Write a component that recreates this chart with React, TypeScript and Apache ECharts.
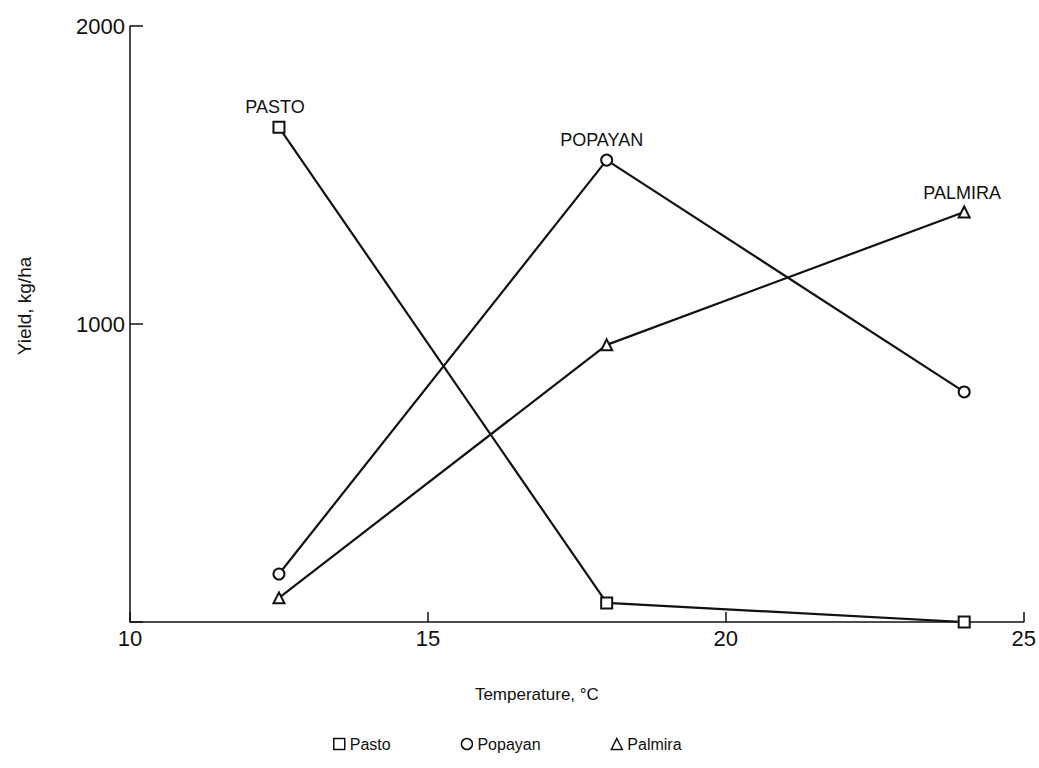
import React, { useEffect, useRef } from "react";
import * as echarts from "echarts";

const temperatures = [12.5, 18, 24];
const pastoYield = [1660, 64, 0];
const popayanYield = [161, 1550, 772];
const palmiraYield = [81, 930, 1376];
const seriesNames = ["Pasto", "Popayan", "Palmira"];
const siteLabels = ["PASTO", "POPAYAN", "PALMIRA"];
const xTicks = [10, 15, 20, 25];
const yTicks = [0, 1000, 2000];

const FONT = "Liberation Sans";

export default function App() {
  const ref = useRef<HTMLDivElement>(null);
  useEffect(() => {
    document.body.style.margin = "0";
    const chart = echarts.init(ref.current!, null, { renderer: "svg" });
    const mk = (
      name: string,
      vals: number[],
      symbol: string,
      labelIdx: number,
      labelText: string,
      labelOffset: number[]
    ) => ({
      name,
      type: "line",
      symbol,
      symbolSize: 11,
      lineStyle: { color: "#111", width: 2.2 },
      itemStyle: { color: "#111", borderColor: "#111", borderWidth: 1.6 },
      data: temperatures.map((t, i) => {
        const d: any = { value: [t, vals[i]] };
        if (i === labelIdx) {
          d.label = {
            show: true,
            position: "top",
            formatter: labelText,
            color: "#111",
            fontFamily: FONT,
            fontSize: 18,
            offset: labelOffset,
          };
        }
        return d;
      }),
    });
    chart.setOption({
      animation: false,
      backgroundColor: "#fff",
      textStyle: { fontFamily: FONT, color: "#111" },
      grid: { left: 130, right: 15, top: 26, bottom: 146 },
      legend: {
        left: 328,
        top: 731,
        itemGap: 70,
        itemWidth: 11,
        itemHeight: 11,
        textStyle: { fontFamily: FONT, fontSize: 16, color: "#111" },
        data: [
          { name: seriesNames[0], icon: "rect", itemStyle: { color: "#fff", borderColor: "#111", borderWidth: 1.5 } },
          { name: seriesNames[1], icon: "circle", itemStyle: { color: "#fff", borderColor: "#111", borderWidth: 1.5 } },
          { name: seriesNames[2], icon: "triangle", itemStyle: { color: "#fff", borderColor: "#111", borderWidth: 1.5 } },
        ],
      },
      xAxis: {
        type: "value",
        min: xTicks[0],
        max: xTicks[xTicks.length - 1],
        interval: 5,
        name: "Temperature, \u00B0C",
        nameLocation: "middle",
        nameGap: 64,
        nameTextStyle: { fontFamily: FONT, fontSize: 17, color: "#111", padding: [0, 80, 0, 0] },
        splitLine: { show: false },
        axisLine: { lineStyle: { color: "#111", width: 1.5 } },
        axisTick: { inside: true, length: 10, lineStyle: { color: "#111", width: 1.5 } },
        axisLabel: { fontFamily: FONT, fontSize: 22, color: "#111", margin: 5 },
      },
      yAxis: {
        type: "value",
        min: yTicks[0],
        max: yTicks[yTicks.length - 1],
        interval: 1000,
        name: "Yield, kg/ha",
        nameLocation: "middle",
        nameGap: 96,
        nameTextStyle: { fontFamily: FONT, fontSize: 19, color: "#111", padding: [0, 0, 0, 36] },
        splitLine: { show: false },
        axisLine: { show: true, lineStyle: { color: "#111", width: 1.5 } },
        axisTick: { show: true, inside: true, length: 13, lineStyle: { color: "#111", width: 1.5 } },
        axisLabel: {
          fontFamily: FONT,
          fontSize: 22,
          color: "#111",
          margin: 5,
          verticalAlign: "middle",
          padding: [0, 0, 10, 0],
          formatter: (v: number) => (v === 0 ? "" : String(v)),
        },
      },
      series: [
        mk(seriesNames[0], pastoYield, "emptyRect", 0, siteLabels[0], [-4, 0]),
        mk(seriesNames[1], popayanYield, "emptyCircle", 1, siteLabels[1], [-5, 0]),
        mk(seriesNames[2], palmiraYield, "emptyTriangle", 2, siteLabels[2], [-2, 2]),
      ],
    });
    return () => chart.dispose();
  }, []);
  return <div ref={ref} style={{ width: 1039, height: 768 }} />;
}
